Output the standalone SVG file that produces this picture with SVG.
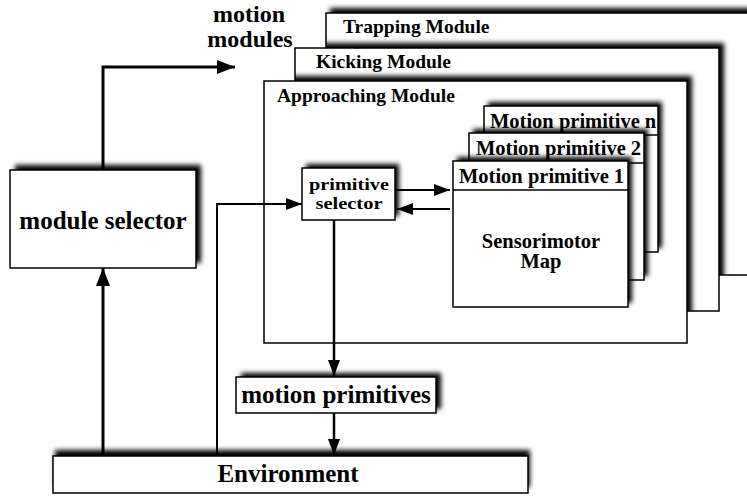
<svg xmlns="http://www.w3.org/2000/svg" width="747" height="497" viewBox="0 0 747 497">
<defs>
<style>
.box{fill:#fff;stroke:#000;stroke-width:1.5}
.sh{fill:#000;filter:url(#blur)}
.t{font-family:"Liberation Serif","Times New Roman",serif;font-weight:bold;fill:#000}
.c{fill:none;stroke:#000}
</style>
<filter id="blur" x="-20%" y="-20%" width="140%" height="140%"><feGaussianBlur stdDeviation="2.5"/></filter>
<clipPath id="clipTrap"><rect x="326" y="13" width="440" height="262"/></clipPath>
<clipPath id="clipKick"><rect x="295" y="48" width="424" height="263"/></clipPath>
<marker id="ab" markerUnits="userSpaceOnUse" markerWidth="18" markerHeight="14" refX="18" refY="7" orient="auto"><path d="M0,0 L18,7 L0,14 Z" fill="#000"/></marker>
<marker id="am" markerUnits="userSpaceOnUse" markerWidth="16" markerHeight="12" refX="16" refY="6" orient="auto"><path d="M0,0 L16,6 L0,12 Z" fill="#000"/></marker>
</defs>
<rect width="747" height="497" fill="#fff"/>

<g id="trapping-module">
<rect class="sh" x="330" y="8" width="440" height="262"/>
<rect class="box" x="326" y="13" width="440" height="262"/>
<text class="t" x="343" y="33" font-size="19.5">Trapping Module</text>
</g>
<g id="kicking-module">
<g clip-path="url(#clipTrap)"><rect class="sh" x="300" y="43" width="424" height="263"/></g>
<rect class="box" x="295" y="48" width="424" height="263"/>
<text class="t" x="316" y="68" font-size="19.5">Kicking Module</text>
</g>
<g id="approaching-module">
<g clip-path="url(#clipKick)"><rect class="sh" x="269" y="76" width="423" height="262"/></g>
<rect class="box" x="264" y="81" width="423" height="262"/>
<text class="t" x="277" y="102" font-size="19.5">Approaching Module</text>
</g>

<g id="motion-primitive-n">
<rect class="sh" x="488" y="102" width="174" height="146"/>
<rect class="box" x="484" y="106" width="174" height="146"/>
<line x1="484" y1="135" x2="658" y2="135" stroke="#000" stroke-width="1.5"/>
<text class="t" x="490" y="128" font-size="20.5">Motion primitive n</text>
</g>
<g id="motion-primitive-2">
<rect class="sh" x="473" y="129" width="175" height="147"/>
<rect class="box" x="469" y="133" width="175" height="147"/>
<line x1="469" y1="163" x2="644" y2="163" stroke="#000" stroke-width="1.5"/>
<text class="t" x="476" y="155" font-size="20.5">Motion primitive 2</text>
</g>
<g id="motion-primitive-1">
<rect class="sh" x="457" y="157" width="175" height="146"/>
<rect class="box" x="453" y="161" width="175" height="146"/>
<line x1="453" y1="190" x2="628" y2="190" stroke="#000" stroke-width="1.5"/>
<text class="t" x="459" y="183" font-size="20.5">Motion primitive 1</text>
<text class="t" x="541" y="248" font-size="20.5" text-anchor="middle">Sensorimotor</text>
<text class="t" x="541" y="268" font-size="20.5" text-anchor="middle">Map</text>
</g>

<g id="primitive-selector">
<rect class="sh" x="306" y="164" width="93" height="52"/>
<rect class="box" x="302" y="168" width="93" height="52"/>
<text class="t" x="349" y="190" font-size="17.5" text-anchor="middle" textLength="80" lengthAdjust="spacingAndGlyphs">primitive</text>
<text class="t" x="349" y="209" font-size="17.5" text-anchor="middle" textLength="67" lengthAdjust="spacingAndGlyphs">selector</text>
</g>

<g id="module-selector">
<rect class="sh" x="15" y="165" width="186" height="98"/>
<rect class="box" x="10" y="170" width="186" height="98"/>
<text class="t" x="103" y="229" font-size="25" text-anchor="middle">module selector</text>
</g>

<g id="motion-primitives">
<rect class="sh" x="241" y="373" width="200" height="36"/>
<rect class="box" x="236" y="377" width="200" height="36"/>
<text class="t" x="336" y="403" font-size="25" text-anchor="middle">motion primitives</text>
</g>

<g id="environment">
<rect class="sh" x="55" y="450" width="475" height="37"/>
<rect class="box" x="53" y="456" width="475" height="37"/>
<text class="t" x="288" y="482" font-size="25" text-anchor="middle">Environment</text>
</g>

<g id="motion-modules-label">
<text class="t" x="249" y="22" font-size="24" text-anchor="middle">motion</text>
<text class="t" x="250" y="47" font-size="24" text-anchor="middle">modules</text>
</g>

<g id="connectors">
<path class="c" d="M103,170 V67 H235" stroke-width="3" marker-end="url(#ab)"/>
<path class="c" d="M103,456 V268" stroke-width="3" marker-end="url(#ab)"/>
<path class="c" d="M217,456 V204 H302" stroke-width="2" marker-end="url(#am)"/>
<path class="c" d="M396,190 H450" stroke-width="2" marker-end="url(#am)"/>
<path class="c" d="M450,209 H397" stroke-width="2" marker-end="url(#am)"/>
<path class="c" d="M334,220 V376" stroke-width="2.5" marker-end="url(#am)"/>
<path class="c" d="M334,413 V455" stroke-width="2.5" marker-end="url(#am)"/>
</g>
</svg>
